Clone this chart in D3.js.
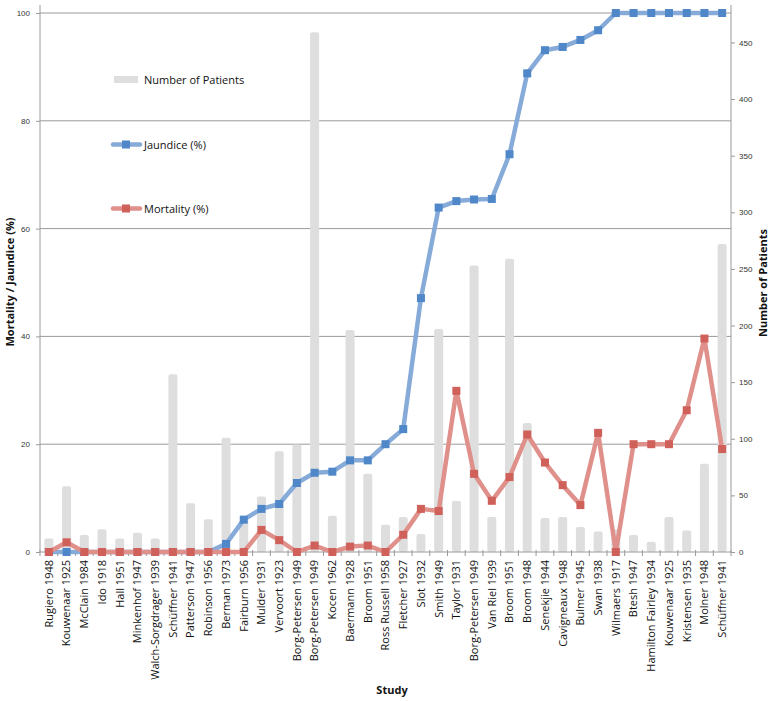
<!DOCTYPE html>
<html>
<head>
<meta charset="utf-8">
<script src="https://cdn.jsdelivr.net/npm/d3@7"></script>
<style>
  html, body { margin: 0; padding: 0; background: #fff; }
  svg { display: block; font-family: "Open Sans", "Noto Sans", sans-serif; }
</style>
</head>
<body>
<svg id="chart" width="772" height="701"></svg>
<script>
const studies = ["Rugiero 1948","Kouwenaar 1925","McClain 1984","Ido 1918","Hall 1951","Minkenhof 1947","Walch-Sorgdrager 1939","Schüffner 1941","Patterson 1947","Robinson 1956","Berman 1973","Fairburn 1956","Mulder 1931","Vervoort 1923","Borg-Petersen 1949","Borg-Petersen 1949","Kocen 1962","Baermann 1928","Broom 1951","Ross Russell 1958","Fletcher 1927","Slot 1932","Smith 1949","Taylor 1931","Borg-Petersen 1949","Van Riel 1939","Broom 1951","Broom 1948","Senekjie 1944","Cavigneaux 1948","Bulmer 1945","Swan 1938","Wilmaers 1917","Btesh 1947","Hamilton Fairley 1934","Kouwenaar 1925","Kristensen 1935","Molner 1948","Schüffner 1941"];
const patients = [12,58,15,20,12,17,12,157,43,29,101,28,49,89,95,459,32,196,69,24,31,16,197,45,253,31,259,114,30,31,22,18,20,15,9,31,19,78,272];
const jaundice = [0,0,0,0,0,0,0,0,0,0,1.5,6,8,8.9,12.8,14.7,14.9,17,17,20,22.8,47.1,63.9,65.1,65.4,65.5,73.8,88.8,93.1,93.7,95,96.8,100,100,100,100,100,100,100];
const mortality = [0,1.8,0,0,0,0,0,0,0,0,0,0,4.1,2.2,0,1.2,0,1,1.2,0,3.2,8,7.6,29.9,14.5,9.5,13.9,21.8,16.6,12.4,8.7,22.1,0,20,20,20,26.3,39.6,19.1];
const leftTicks = [0,20,40,60,80,100];
const rightTicks = [0,50,100,150,200,250,300,350,400,450];

const svg = d3.select("#chart");
const L = 40, R = 731, T = 13, B = 552;

const x = d3.scaleBand().domain(d3.range(studies.length)).range([L, R]).paddingInner(0).paddingOuter(0);
const yL = d3.scaleLinear().domain([0, 100]).range([B, T]);
const yR = d3.scaleLinear().domain([0, 476]).range([B, T]);
const cx = i => x(i) + x.bandwidth() / 2;

// gridlines
svg.append("g").selectAll("line").data(leftTicks.filter(d => d > 0)).join("line")
  .attr("x1", L).attr("x2", R).attr("y1", d => yL(d)).attr("y2", d => yL(d))
  .attr("stroke", "#9a9a9a").attr("stroke-width", 1);

// bars
const bw = 9;
svg.append("g").selectAll("rect").data(patients).join("rect")
  .attr("x", (d, i) => cx(i) - bw / 2).attr("width", bw)
  .attr("y", d => yR(d)).attr("height", d => B - yR(d))
  .attr("rx", 2)
  .attr("fill", "#dedede");

// axes
const axisG = svg.append("g").attr("stroke", "#9a9a9a").attr("fill", "none");
axisG.append("line").attr("x1", L).attr("x2", L).attr("y1", 5).attr("y2", B + 0.5);
axisG.append("line").attr("x1", R).attr("x2", R).attr("y1", 5).attr("y2", B + 0.5);
axisG.append("line").attr("x1", L).attr("x2", R).attr("y1", B).attr("y2", B);

// left axis
const leftAxis = d3.axisLeft(yL).tickValues(leftTicks).tickSize(4).tickPadding(6);
const gl = svg.append("g").attr("transform", `translate(${L},0)`).call(leftAxis);
gl.select(".domain").remove();
gl.selectAll(".tick line").attr("stroke", "#9a9a9a");
gl.selectAll(".tick text").attr("font-size", 8).attr("fill", "#333");

// right axis
const rightAxis = d3.axisRight(yR).tickValues(rightTicks).tickSize(4).tickPadding(4);
const gr = svg.append("g").attr("transform", `translate(${R},0)`).call(rightAxis);
gr.select(".domain").remove();
gr.selectAll(".tick line").attr("stroke", "#9a9a9a");
gr.selectAll(".tick text").attr("font-size", 8).attr("fill", "#333");

// x ticks at band boundaries
svg.append("g").selectAll("line").data(d3.range(studies.length + 1)).join("line")
  .attr("x1", i => L + i * x.step()).attr("x2", i => L + i * x.step())
  .attr("y1", B - 2).attr("y2", B + 4)
  .attr("stroke", "#9a9a9a");

// x labels
svg.append("g").selectAll("text").data(studies).join("text")
  .attr("transform", (d, i) => `translate(${cx(i)},${B + 8}) rotate(-90)`)
  .attr("text-anchor", "end").attr("dy", "0.35em")
  .attr("font-size", 11).attr("fill", "#111")
  .text(d => d);

// lines
function drawSeries(data, lineColor, markColor) {
  const line = d3.line().x((d, i) => cx(i)).y(d => yL(d));
  svg.append("path").datum(data).attr("d", line)
    .attr("fill", "none").attr("stroke", lineColor).attr("stroke-width", 4.5)
    .attr("stroke-linejoin", "round");
  svg.append("g").selectAll("rect").data(data).join("rect")
    .attr("x", (d, i) => cx(i) - 4).attr("y", d => yL(d) - 4)
    .attr("width", 8).attr("height", 8).attr("fill", markColor);
}
drawSeries(jaundice, "#86abd8", "#4f87c8");
drawSeries(mortality, "#e0908a", "#d0605a");

// legend
const lg = svg.append("g");
lg.append("rect").attr("x", 114).attr("y", 76).attr("width", 24).attr("height", 7).attr("fill", "#dedede");
lg.append("text").attr("x", 144).attr("y", 80).attr("dy", "0.35em").attr("font-size", 11).attr("fill", "#111").text("Number of Patients");
lg.append("line").attr("x1", 113).attr("x2", 140).attr("y1", 144.5).attr("y2", 144.5).attr("stroke", "#86abd8").attr("stroke-width", 4.5).attr("stroke-linecap", "round");
lg.append("rect").attr("x", 122).attr("y", 140.5).attr("width", 8).attr("height", 8).attr("fill", "#4f87c8");
lg.append("text").attr("x", 144).attr("y", 145).attr("dy", "0.35em").attr("font-size", 11).attr("fill", "#111").text("Jaundice (%)");
lg.append("line").attr("x1", 113).attr("x2", 140).attr("y1", 208.5).attr("y2", 208.5).attr("stroke", "#e0908a").attr("stroke-width", 4.5).attr("stroke-linecap", "round");
lg.append("rect").attr("x", 122).attr("y", 204.5).attr("width", 8).attr("height", 8).attr("fill", "#d0605a");
lg.append("text").attr("x", 144).attr("y", 209).attr("dy", "0.35em").attr("font-size", 11).attr("fill", "#111").text("Mortality (%)");

// axis titles
svg.append("text").attr("transform", `translate(10,282) rotate(-90)`)
  .attr("text-anchor", "middle").attr("dy", "0.35em")
  .attr("font-size", 11).attr("font-weight", "bold").attr("fill", "#111")
  .text("Mortality / Jaundice (%)");
svg.append("text").attr("transform", `translate(763,283) rotate(-90)`)
  .attr("text-anchor", "middle").attr("dy", "0.35em")
  .attr("font-size", 11).attr("font-weight", "bold").attr("fill", "#111")
  .text("Number of Patients");
svg.append("text").attr("x", 392).attr("y", 694)
  .attr("text-anchor", "middle")
  .attr("font-size", 11).attr("font-weight", "bold").attr("fill", "#111")
  .text("Study");
</script>
</body>
</html>
